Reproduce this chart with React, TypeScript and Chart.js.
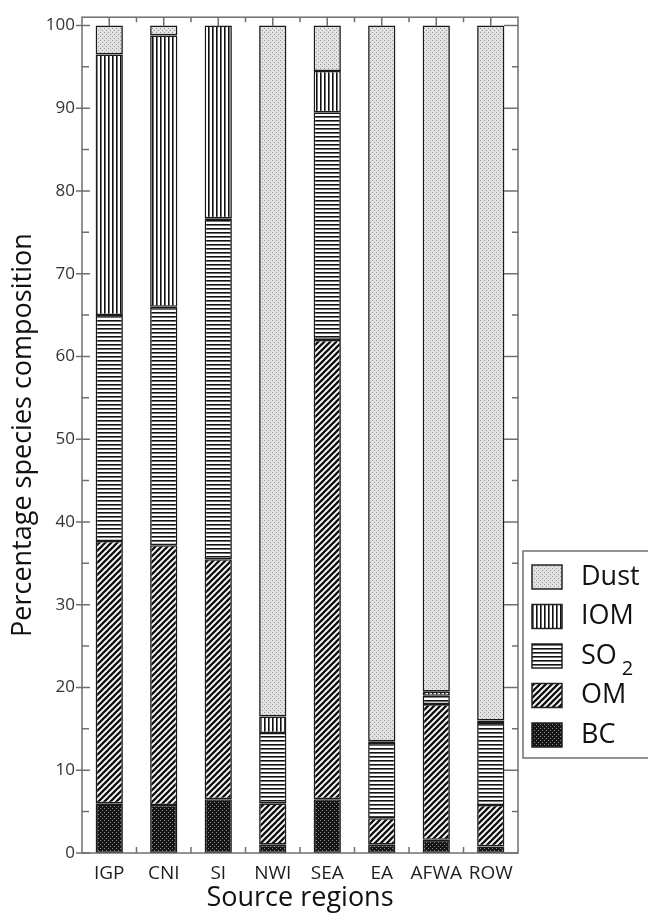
import { useEffect, useRef } from 'react';
import { Chart, registerables } from 'chart.js';

Chart.register(...registerables);

const categories = ['IGP', 'CNI', 'SI', 'NWI', 'SEA', 'EA', 'AFWA', 'ROW'];
const bcValues = [6.0, 5.8, 6.5, 1.0, 6.5, 1.0, 1.6, 0.8];
const omValues = [31.7, 31.4, 29.0, 5.0, 55.5, 3.2, 16.4, 5.0];
const so2Values = [27.3, 28.8, 41.2, 8.5, 27.5, 9.1, 1.0, 9.9];
const iomValues = [31.5, 32.8, 23.3, 2.0, 5.0, 0.2, 0.5, 0.3];
const dustValues = [3.5, 1.2, 0.0, 83.5, 5.5, 86.5, 80.5, 84.0];
const seriesLabels = ['BC', 'OM', 'SO2', 'IOM', 'Dust'];
const yTickValues = [0, 10, 20, 30, 40, 50, 60, 70, 80, 90, 100];
const yMinorTickValues = [5, 15, 25, 35, 45, 55, 65, 75, 85, 95];

const FONT = '"Open Sans", "Noto Sans", sans-serif';

function makePattern(kind: string): CanvasPattern | string {
  const c = document.createElement('canvas');
  const g = c.getContext('2d');
  if (!g) return '#888';
  if (kind === 'bc') {
    c.width = 4; c.height = 4;
    g.fillStyle = '#151515'; g.fillRect(0, 0, 4, 4);
    g.fillStyle = '#8c8c8c';
    g.fillRect(0, 0, 1, 1); g.fillRect(2, 2, 1, 1);
  } else if (kind === 'om') {
    c.width = 6; c.height = 6;
    g.fillStyle = '#ffffff'; g.fillRect(0, 0, 6, 6);
    g.strokeStyle = '#111111'; g.lineWidth = 2.3;
    g.beginPath();
    g.moveTo(-1, 7); g.lineTo(7, -1);
    g.moveTo(-4, 4); g.lineTo(4, -4);
    g.moveTo(2, 10); g.lineTo(10, 2);
    g.stroke();
  } else if (kind === 'so2') {
    c.width = 4; c.height = 4;
    g.fillStyle = '#ffffff'; g.fillRect(0, 0, 4, 4);
    g.fillStyle = '#111111'; g.fillRect(0, 0, 4, 1.6);
  } else if (kind === 'iom') {
    c.width = 4; c.height = 4;
    g.fillStyle = '#ffffff'; g.fillRect(0, 0, 4, 4);
    g.fillStyle = '#111111'; g.fillRect(0, 0, 1.6, 4);
  } else {
    c.width = 4; c.height = 4;
    g.fillStyle = '#e2e2e2'; g.fillRect(0, 0, 4, 4);
    g.fillStyle = '#989898';
    g.fillRect(0, 0, 1, 1); g.fillRect(2, 2, 1, 1);
  }
  return g.createPattern(c, 'repeat') || '#888';
}

const framePlugin = {
  id: 'frameTicks',
  afterDraw(chart: any) {
    const { ctx, chartArea } = chart;
    const { left, right, top, bottom } = chartArea;
    const xs = chart.scales.x;
    const ys = chart.scales.y;
    ctx.save();
    ctx.strokeStyle = '#6f6f6f';
    ctx.lineWidth = 1.5;
    ctx.strokeRect(left, top, right - left, bottom - top);
    ctx.beginPath();
    yTickValues.forEach((v) => {
      const y = ys.getPixelForValue(v);
      ctx.moveTo(left - 6, y); ctx.lineTo(left + 8, y);
      ctx.moveTo(right - 14, y); ctx.lineTo(right, y);
    });
    yMinorTickValues.forEach((v) => {
      const y = ys.getPixelForValue(v);
      ctx.moveTo(left, y); ctx.lineTo(left + 7, y);
      ctx.moveTo(right - 6, y); ctx.lineTo(right, y);
    });
    categories.forEach((_, i) => {
      const x = xs.getPixelForValue(i);
      ctx.moveTo(x, top); ctx.lineTo(x, top + 9);
      if (i < categories.length - 1) {
        const xb = (x + xs.getPixelForValue(i + 1)) / 2;
        ctx.moveTo(xb, top); ctx.lineTo(xb, top + 5);
        ctx.moveTo(xb, bottom); ctx.lineTo(xb, bottom - 6);
      }
    });
    ctx.stroke();

    // legend
    const bx = right + 5;
    const by = 551;
    ctx.lineWidth = 1.5;
    ctx.strokeStyle = '#6f6f6f';
    ctx.strokeRect(bx, by, 200, 207);
    const ds = chart.data.datasets;
    const order = ds.map((_: any, i: number) => i).reverse();
    order.forEach((di: number, k: number) => {
      const py = 565 + k * 39.5;
      const px = bx + 9;
      ctx.fillStyle = ds[di].backgroundColor;
      ctx.fillRect(px, py, 30, 24);
      ctx.strokeStyle = '#222';
      ctx.lineWidth = 1.5;
      ctx.strokeRect(px, py, 30, 24);
      const label: string = ds[di].label;
      const m = label.match(/^([A-Za-z]+)(\d*)$/);
      const main = m ? m[1] : label;
      const sub = m ? m[2] : '';
      ctx.fillStyle = '#111';
      ctx.textBaseline = 'middle';
      ctx.textAlign = 'left';
      ctx.font = `27px ${FONT}`;
      const tx = bx + 58;
      const ty = py + 12;
      ctx.fillText(main, tx, ty);
      if (sub) {
        const w = ctx.measureText(main).width;
        ctx.font = `20px ${FONT}`;
        ctx.fillText(sub, tx + w + 5, ty + 13);
      }
    });
    ctx.restore();
  },
};

export default function App() {
  const ref = useRef<HTMLCanvasElement | null>(null);
  useEffect(() => {
    if (!ref.current) return;
    const kinds = ['bc', 'om', 'so2', 'iom', 'dust'];
    const values = [bcValues, omValues, so2Values, iomValues, dustValues];
    const chart = new Chart(ref.current, {
      type: 'bar',
      data: {
        labels: categories,
        datasets: seriesLabels.map((lab, i) => ({
          label: lab,
          data: values[i],
          backgroundColor: makePattern(kinds[i]) as any,
          borderColor: '#1a1a1a',
          borderWidth: 1.6,
          borderSkipped: false,
          barPercentage: 0.5,
          categoryPercentage: 1.0,
        })),
      },
      options: {
        responsive: false,
        animation: false,
        layout: { padding: { top: 14, right: 130, left: 0, bottom: 0 } },
        plugins: { legend: { display: false }, tooltip: { enabled: false } },
        scales: {
          x: {
            stacked: true,
            grid: { display: false, drawTicks: false },
            border: { display: false },
            ticks: {
              font: { family: FONT, size: 19 },
              color: '#1e1e1e',
              padding: 9,
              maxRotation: 0,
              minRotation: 0,
              autoSkip: false,
            },
            title: {
              display: true,
              text: 'Source regions',
              font: { family: FONT, size: 27 },
              color: '#111',
              padding: { top: 0, bottom: 0 },
            },
            afterFit: (s: any) => { s.height = 62; },
          },
          y: {
            stacked: true,
            min: 0,
            max: 101,
            grid: { display: false, drawTicks: false },
            border: { display: false },
            ticks: { font: { family: FONT, size: 17 }, color: '#333', padding: 7 },
            afterBuildTicks: (s: any) => { s.ticks = yTickValues.map((v) => ({ value: v })); },
            title: {
              display: true,
              text: 'Percentage species composition',
              font: { family: FONT, size: 27 },
              color: '#111',
              padding: { top: 7, bottom: 0 },
            },
            afterFit: (s: any) => { s.width = 82; },
          },
        },
      },
      plugins: [framePlugin],
    });
    return () => chart.destroy();
  }, []);
  return (
    <div style={{ position: 'absolute', left: 0, top: 0, width: 648, height: 915, background: '#fff' }}>
      <canvas ref={ref} width={648} height={915} style={{ display: 'block' }} />
    </div>
  );
}
